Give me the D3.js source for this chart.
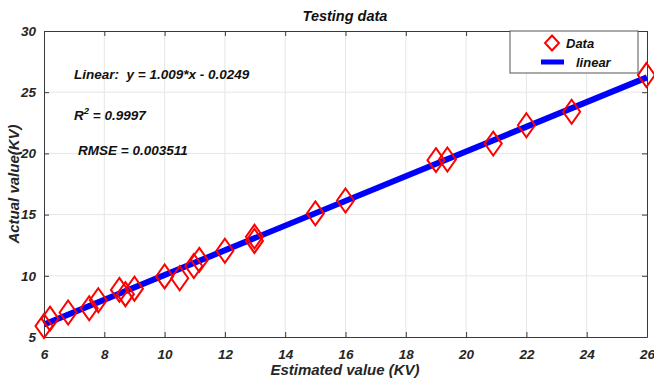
<!DOCTYPE html>
<html>
<head>
<meta charset="utf-8">
<script src="https://cdn.jsdelivr.net/npm/d3@7"></script>
<style>
  html, body { margin: 0; padding: 0; background: #fff; }
  svg { display: block; }
  text { font-family: "Liberation Sans", Arial, sans-serif; font-weight: bold; font-style: italic; white-space: pre; }
</style>
</head>
<body>
<svg id="chart" width="654" height="378"></svg>
<script>
// Estimated vs actual voltage (testing set)
const estimated = [6.0, 6.2, 6.8, 7.5, 7.8, 8.5, 8.7, 9.0, 10.0, 10.5, 10.97, 11.15, 12.0, 12.98, 12.98, 15.0, 16.0, 19.0, 19.38, 20.9, 22.0, 23.5, 25.98];
const actual    = [5.9, 6.5, 7.0, 7.35, 8.0, 8.85, 8.5, 8.95, 9.95, 9.8, 10.8, 11.3, 12.05, 13.2, 12.85, 15.1, 16.15, 19.45, 19.5, 20.8, 22.3, 23.4, 26.4];
const xTicks = [6, 8, 10, 12, 14, 16, 18, 20, 22, 24, 26];
const yTicks = [5, 10, 15, 20, 25, 30];
const fitSlope = 1.009;
const fitIntercept = -0.0249;
const fitRange = [6, 26];
const legendLabels = ["Data", "linear"];
const statsLines = ["Linear:  y = 1.009*x - 0.0249", "R2 = 0.9997", "RMSE = 0.003511"];

const svg = d3.select("#chart");
const m = { left: 44, right: 647, top: 31, bottom: 337 };

const x = d3.scaleLinear().domain([6, 26]).range([m.left, m.right]);
const y = d3.scaleLinear().domain([5, 30]).range([m.bottom, m.top]);

const axisColor = "#3a3a3a";
const gridColor = "#e6e6e6";

// grid
const grid = svg.append("g");
grid.selectAll("line.gx").data(xTicks.slice(1, -1)).join("line")
  .attr("x1", d => x(d)).attr("x2", d => x(d))
  .attr("y1", m.top).attr("y2", m.bottom)
  .attr("stroke", gridColor).attr("stroke-width", 1);
grid.selectAll("line.gy").data(yTicks.slice(1, -1)).join("line")
  .attr("y1", d => y(d)).attr("y2", d => y(d))
  .attr("x1", m.left).attr("x2", m.right)
  .attr("stroke", gridColor).attr("stroke-width", 1);

// axes with inward ticks on all sides
function styleAxis(g) {
  g.select(".domain").attr("stroke", axisColor);
  g.selectAll(".tick line").attr("stroke", axisColor);
  g.selectAll(".tick text")
    .attr("fill", "#262626")
    .style("font-size", "13.5px");
}
svg.append("g").attr("transform", `translate(0,${m.bottom})`)
  .call(d3.axisBottom(x).tickValues(xTicks).tickSizeInner(-5).tickSizeOuter(0).tickPadding(12))
  .call(styleAxis);
svg.append("g").attr("transform", `translate(${m.left},0)`)
  .call(d3.axisLeft(y).tickValues(yTicks).tickSizeInner(-5).tickSizeOuter(0).tickPadding(8))
  .call(styleAxis);
svg.append("g").attr("transform", `translate(0,${m.top})`)
  .call(d3.axisTop(x).tickValues(xTicks).tickSizeInner(-5).tickSizeOuter(0).tickFormat(""))
  .call(styleAxis);
svg.append("g").attr("transform", `translate(${m.right},0)`)
  .call(d3.axisRight(y).tickValues(yTicks).tickSizeInner(-5).tickSizeOuter(0).tickFormat(""))
  .call(styleAxis);

// fitted line
const fitLine = d3.line().x(d => x(d)).y(d => y(fitSlope * d + fitIntercept));
svg.append("path")
  .datum(fitRange)
  .attr("d", fitLine)
  .attr("fill", "none")
  .attr("stroke", "#0000ff")
  .attr("stroke-width", 6);

// diamond markers
const dw = 8.5, dh = 12;
function diamond(cx, cy, w, h) {
  return `M${cx},${cy - h}L${cx + w},${cy}L${cx},${cy + h}L${cx - w},${cy}Z`;
}
svg.append("g").selectAll("path").data(estimated).join("path")
  .attr("d", (d, i) => diamond(x(d), y(actual[i]), dw, dh))
  .attr("fill", "none")
  .attr("stroke", "#ff0000")
  .attr("stroke-width", 2);

// title
svg.append("text")
  .attr("x", 345).attr("y", 21)
  .attr("text-anchor", "middle")
  .style("font-size", "14.5px")
  .attr("fill", "#111")
  .text("Testing data");

// axis labels
svg.append("text")
  .attr("x", 345).attr("y", 375)
  .attr("text-anchor", "middle")
  .style("font-size", "15px")
  .attr("fill", "#262626")
  .text("Estimated value (KV)");
svg.append("text")
  .attr("transform", "translate(19,184) rotate(-90)")
  .attr("text-anchor", "middle")
  .style("font-size", "15px")
  .attr("fill", "#262626")
  .text("Actual value(KV)");

// fit statistics
const stats = svg.append("g").style("font-size", "13.5px").attr("fill", "#111");
stats.append("text").attr("x", 74).attr("y", 79).text(statsLines[0]);
const r2 = stats.append("text").attr("x", 74).attr("y", 120);
r2.append("tspan").text("R");
r2.append("tspan").attr("dy", -6).style("font-size", "9.5px").text("2");
r2.append("tspan").attr("dy", 6).text(" = 0.9997");
stats.append("text").attr("x", 78).attr("y", 155).text(statsLines[2]);

// legend
const lg = svg.append("g");
lg.append("rect")
  .attr("x", 510).attr("y", 31).attr("width", 128).attr("height", 42)
  .attr("fill", "#fff").attr("stroke", "#555").attr("stroke-width", 1);
lg.append("path")
  .attr("d", diamond(552, 43, 7, 7.5))
  .attr("fill", "none").attr("stroke", "#ff0000").attr("stroke-width", 2);
lg.append("line")
  .attr("x1", 541).attr("x2", 564).attr("y1", 62).attr("y2", 62)
  .attr("stroke", "#0000ff").attr("stroke-width", 5);
lg.append("text").attr("x", 566).attr("y", 48).style("font-size", "13px").attr("fill", "#111").text(legendLabels[0]);
lg.append("text").attr("x", 576).attr("y", 67).style("font-size", "13px").attr("fill", "#111").text(legendLabels[1]);
</script>
</body>
</html>
